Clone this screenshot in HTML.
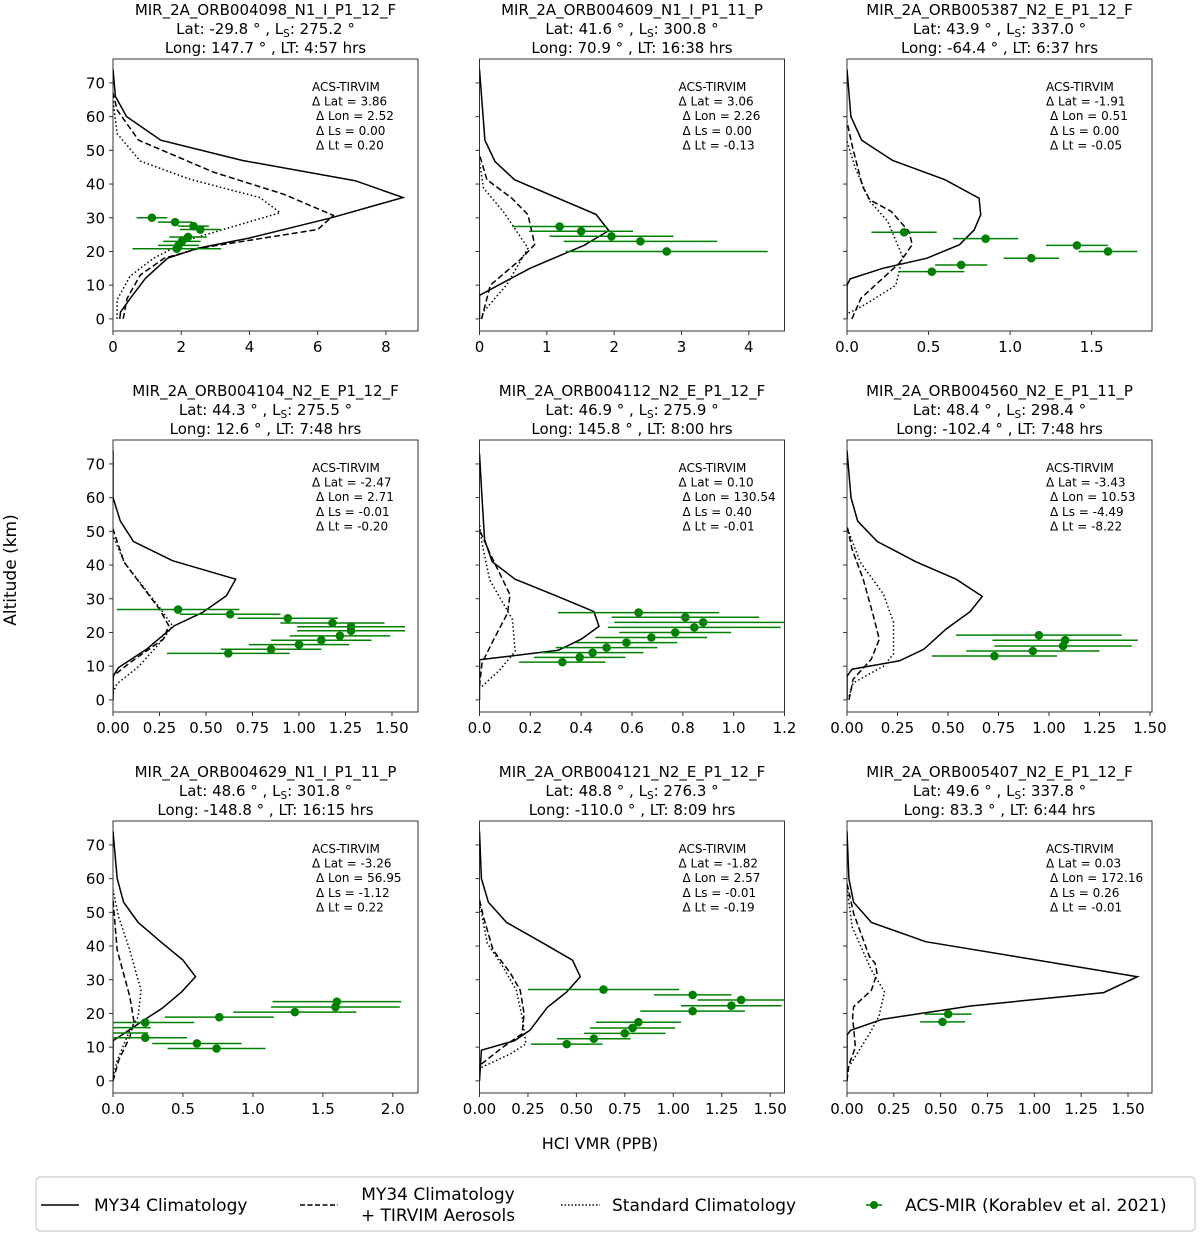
<!DOCTYPE html>
<html><head><meta charset="utf-8">
<style>
body{margin:0;background:#fff;}
svg{display:block;font-family:"DejaVu Sans","Liberation Sans",sans-serif;}
</style></head>
<body>
<svg id="fig" width="1200" height="1235" viewBox="0 0 1200 1235">
<text x="16" y="570" font-size="17" text-anchor="middle" transform="rotate(-90 16 570)">Altitude (km)</text>
<text x="600" y="1149" font-size="16" text-anchor="middle">HCl VMR (PPB)</text>
<g>
<rect x="36" y="1177" width="1159" height="54" rx="4" fill="#fff" stroke="#ccc" stroke-width="1.2"/>
<line x1="41" y1="1205" x2="79" y2="1205" stroke="#000" stroke-width="1.6"/>
<text x="94" y="1211" font-size="17">MY34 Climatology</text>
<line x1="300" y1="1205" x2="338" y2="1205" stroke="#000" stroke-width="1.6" stroke-dasharray="5,2.5"/>
<text x="438" y="1200" font-size="17" text-anchor="middle">MY34 Climatology<tspan x="438" dy="21">+ TIRVIM Aerosols</tspan></text>
<line x1="561" y1="1205" x2="600" y2="1205" stroke="#000" stroke-width="1.6" stroke-dasharray="1.5,2"/>
<text x="612" y="1211" font-size="17">Standard Climatology</text>
<line x1="866" y1="1205" x2="882" y2="1205" stroke="#008000" stroke-width="1.6"/>
<circle cx="874" cy="1205" r="4" fill="#008000"/>
<text x="905" y="1211" font-size="17">ACS-MIR (Korablev et al. 2021)</text>
</g>
</svg>
<script>
// ---------- Panel data (altitude km, HCl VMR ppb) ----------
const p1Title=["MIR_2A_ORB004098_N1_I_P1_12_F","Lat: -29.8 ° , L|: 275.2 °","Long: 147.7 ° , LT: 4:57 hrs"];
const p1Delta=["3.86","2.52","0.00","0.20"];
const p1SolidAlt=[0,2,6,12,18,21,24,30,36,41,47,53,60,66,74];
const p1SolidVal=[0.2,0.22,0.5,0.95,1.6,2.5,4.0,6.4,8.5,7.1,3.8,1.4,0.4,0.07,0];
const p1DashAlt=[0,6,13,18,21,26.5,30.7,37,43.5,53,62,67];
const p1DashVal=[0.3,0.41,0.8,1.5,2.56,6.0,6.46,5.0,2.95,0.75,0.12,0];
const p1DotAlt=[0,5.7,12.7,18,23.6,31.5,36,41.4,46.8,55,65];
const p1DotVal=[0.12,0.12,0.5,1.19,2.26,4.9,4.3,2.26,0.8,0.12,0];
const p1PtAlt=[30.0,28.7,27.5,26.5,24.3,23.0,21.8,20.8];
const p1PtVal=[1.14,1.82,2.36,2.56,2.2,2.02,1.92,1.87];
const p1PtErr=[0.45,0.5,0.45,0.6,0.55,0.55,0.6,1.3];

const p2Title=["MIR_2A_ORB004609_N1_I_P1_11_P","Lat: 41.6 ° , L|: 300.8 °","Long: 70.9 ° , LT: 16:38 hrs"];
const p2Delta=["3.06","2.26","0.00","-0.13"];
const p2SolidAlt=[0,7,15,21.8,26.2,31,41.3,46.7,53,74];
const p2SolidVal=[0,0,0.75,1.55,1.92,1.73,0.52,0.23,0.08,0];
const p2DashAlt=[0,2.2,10,17.5,22,30.9,35.8,41.3,48.7];
const p2DashVal=[0.03,0.06,0.16,0.6,0.82,0.72,0.48,0.11,0];
const p2DotAlt=[0,2.2,10,21,31.9,38.8,46.7];
const p2DotVal=[0.03,0.06,0.4,0.72,0.35,0.06,0];
const p2PtAlt=[27.4,26.0,24.5,23.0,20.0];
const p2PtVal=[1.19,1.51,1.96,2.39,2.78];
const p2PtErr=[0.7,0.77,0.92,1.14,1.5];

const p3Title=["MIR_2A_ORB005387_N2_E_P1_12_F","Lat: 43.9 ° , L|: 337.0 °","Long: -64.4 ° , LT: 6:37 hrs"];
const p3Delta=["-1.91","0.51","0.00","-0.05"];
const p3SolidAlt=[0,10,11.9,15,18,22,26.4,30.9,35.8,41.3,47,53,60,74];
const p3SolidVal=[0,0,0.02,0.22,0.49,0.69,0.78,0.82,0.81,0.6,0.28,0.09,0.024,0];
const p3DashAlt=[0,6.1,16.5,22,25.9,31.9,35.3,39.3,51.7,58.6];
const p3DashVal=[0.03,0.085,0.32,0.4,0.38,0.27,0.14,0.095,0.03,0];
const p3DotAlt=[1.7,4.2,10,18.5,28.9,34.9,44.8,52.7];
const p3DotVal=[0.01,0.11,0.3,0.34,0.25,0.14,0.05,0];
const p3PtAlt=[25.7,23.8,21.8,20.0,18.0,16.0,14.0];
const p3PtVal=[0.35,0.85,1.41,1.6,1.13,0.7,0.52];
const p3PtErr=[0.2,0.2,0.19,0.18,0.17,0.16,0.2];

const p4Title=["MIR_2A_ORB004104_N2_E_P1_12_F","Lat: 44.3 ° , L|: 275.5 °","Long: 12.6 ° , LT: 7:48 hrs"];
const p4Delta=["-2.47","2.71","-0.01","-0.20"];
const p4SolidAlt=[0,7,9.6,15,22,25.9,30.9,35.8,41.3,47,53,60,74];
const p4SolidVal=[0,0,0.03,0.18,0.33,0.48,0.61,0.66,0.32,0.11,0.04,0,0];
const p4DashAlt=[3,7,11,18,22,26.9,40.8,50.7];
const p4DashVal=[0,0,0.09,0.27,0.3,0.25,0.06,0];
const p4DotAlt=[2,4.7,10,18,22,27.4,40.8,48.7];
const p4DotVal=[0,0.02,0.14,0.27,0.32,0.25,0.06,0];
const p4PtAlt=[26.8,25.4,24.2,22.8,21.7,20.5,19.0,17.7,16.4,15.0,13.8];
const p4PtVal=[0.35,0.63,0.94,1.18,1.28,1.28,1.22,1.12,1.0,0.85,0.62];
const p4PtErr=[0.33,0.27,0.27,0.28,0.29,0.29,0.27,0.27,0.27,0.27,0.33];

const p5Title=["MIR_2A_ORB004112_N2_E_P1_12_F","Lat: 46.9 ° , L|: 275.9 °","Long: 145.8 ° , LT: 8:00 hrs"];
const p5Delta=["0.10","130.54","0.40","-0.01"];
const p5SolidAlt=[0,11.9,14.7,18,21.8,26.2,30.9,35.8,41,47.5,60,73];
const p5SolidVal=[0,0,0.31,0.4,0.47,0.45,0.3,0.14,0.05,0.02,0.01,0];
const p5DashAlt=[4,10.9,17.8,25.7,31.2,43.6,50.5];
const p5DashVal=[0,0.01,0.055,0.11,0.12,0.04,0];
const p5DotAlt=[4,8.9,14.4,23.8,35.6,46.5,52.5];
const p5DotVal=[0.01,0.08,0.14,0.13,0.04,0.01,0];
const p5PtAlt=[25.9,24.5,23.0,21.5,20.0,18.5,17.0,15.5,14.0,12.6,11.2];
const p5PtVal=[0.626,0.81,0.88,0.845,0.77,0.676,0.578,0.5,0.445,0.394,0.326];
const p5PtErr=[0.317,0.29,0.35,0.34,0.22,0.22,0.2,0.2,0.2,0.18,0.17];

const p6Title=["MIR_2A_ORB004560_N2_E_P1_11_P","Lat: 48.4 ° , L|: 298.4 °","Long: -102.4 ° , LT: 7:48 hrs"];
const p6Delta=["-3.43","10.53","-4.49","-8.22"];
const p6SolidAlt=[0,7,9.1,11.6,15,21,26.2,30.7,35.8,41,47,53,60,74];
const p6SolidVal=[0,0,0.025,0.26,0.38,0.49,0.61,0.67,0.54,0.34,0.15,0.053,0.02,0];
const p6DashAlt=[0,6.1,12,18,25,35.8,44.8,51.7];
const p6DashVal=[0.01,0.03,0.12,0.16,0.13,0.08,0.025,0];
const p6DotAlt=[1,5,10,13.6,23,31.4,40.8,51.2];
const p6DotVal=[0.01,0.03,0.18,0.23,0.23,0.18,0.066,0];
const p6PtAlt=[19.2,17.7,16.0,14.5,13.0];
const p6PtVal=[0.95,1.08,1.07,0.92,0.73];
const p6PtErr=[0.41,0.36,0.34,0.33,0.31];

const p7Title=["MIR_2A_ORB004629_N1_I_P1_11_P","Lat: 48.6 ° , L|: 301.8 °","Long: -148.8 ° , LT: 16:15 hrs"];
const p7Delta=["-3.26","56.95","-1.12","0.22"];
const p7SolidAlt=[0,11.9,14,18,21.5,26.4,30.9,35.8,41.3,47,53,60,74];
const p7SolidVal=[0,0,0.076,0.22,0.35,0.49,0.59,0.5,0.34,0.18,0.076,0.03,0];
const p7DashAlt=[0,6,13,17.5,25,38.8,53.7];
const p7DashVal=[0,0.04,0.12,0.15,0.12,0.03,0];
const p7DotAlt=[1,6,15,19,26.9,38.8,48.7,56.6];
const p7DotVal=[0,0.03,0.12,0.18,0.2,0.12,0.04,0];
const p7PtAlt=[23.5,21.9,20.4,18.9,17.3,15.8,14.2,12.8,11.1,9.6];
const p7PtVal=[1.6,1.59,1.3,0.76,0.23,-0.05,-0.06,0.23,0.6,0.74];
const p7PtErr=[0.46,0.46,0.44,0.39,0.35,0.32,0.31,0.3,0.32,0.35];

const p8Title=["MIR_2A_ORB004121_N2_E_P1_12_F","Lat: 48.8 ° , L|: 276.3 °","Long: -110.0 ° , LT: 8:09 hrs"];
const p8Delta=["-1.82","2.57","-0.01","-0.19"];
const p8SolidAlt=[0,9.1,11.9,15,21.8,26.4,30.9,35.8,40.8,47,53,60,74];
const p8SolidVal=[0,0.01,0.18,0.26,0.35,0.45,0.52,0.48,0.33,0.14,0.046,0.01,0];
const p8DashAlt=[5,10,14,20,26.9,31.9,38.8,48.7,53.7];
const p8DashVal=[0.01,0.12,0.22,0.23,0.21,0.16,0.07,0.02,0];
const p8DotAlt=[4,8,11,19,26.9,33.9,40.8,52.7];
const p8DotVal=[0.01,0.16,0.24,0.22,0.19,0.12,0.04,0];
const p8PtAlt=[27.1,25.5,24.0,22.3,20.7,17.4,15.7,14.1,12.5,10.9];
const p8PtVal=[0.64,1.1,1.35,1.3,1.1,0.82,0.79,0.75,0.59,0.45];
const p8PtErr=[0.39,0.2,0.225,0.26,0.27,0.22,0.22,0.21,0.19,0.185];

const p9Title=["MIR_2A_ORB005407_N2_E_P1_12_F","Lat: 49.6 ° , L|: 337.8 °","Long: 83.3 ° , LT: 6:44 hrs"];
const p9Delta=["0.03","172.16","0.26","-0.01"];
const p9SolidAlt=[0,13.6,15,18.3,22.2,26.2,30.9,41.3,47,53,60,74];
const p9SolidVal=[0,0,0.02,0.19,0.66,1.37,1.55,0.42,0.13,0.035,0.01,0];
const p9DashAlt=[0,4.7,10,19,22,26.9,31.9,34.9,36.8,49.7,58.6];
const p9DashVal=[0,0.01,0.045,0.03,0.035,0.13,0.16,0.15,0.12,0.035,0];
const p9DotAlt=[5,14,19,26.4,32.9,45.7,57.6];
const p9DotVal=[0.02,0.12,0.17,0.2,0.13,0.027,0];
const p9PtAlt=[19.8,17.5];
const p9PtVal=[0.54,0.51];
const p9PtErr=[0.125,0.12];

// tick label arrays
const yTickLabels=[0,10,20,30,40,50,60,70];
const p1XTicks=["0","2","4","6","8"];const p1XTickVals=[0,2,4,6,8];
const p2XTicks=["0","1","2","3","4"];const p2XTickVals=[0,1,2,3,4];
const p3XTicks=["0.0","0.5","1.0","1.5"];const p3XTickVals=[0,0.5,1.0,1.5];
const p4XTicks=["0.00","0.25","0.50","0.75","1.00","1.25","1.50"];const p4XTickVals=[0,0.25,0.5,0.75,1,1.25,1.5];
const p5XTicks=["0.0","0.2","0.4","0.6","0.8","1.0","1.2"];const p5XTickVals=[0,0.2,0.4,0.6,0.8,1.0,1.2];
const p6XTicks=["0.00","0.25","0.50","0.75","1.00","1.25","1.50"];const p6XTickVals=[0,0.25,0.5,0.75,1,1.25,1.5];
const p7XTicks=["0.0","0.5","1.0","1.5","2.0"];const p7XTickVals=[0,0.5,1.0,1.5,2.0];
const p8XTicks=["0.00","0.25","0.50","0.75","1.00","1.25","1.50"];const p8XTickVals=[0,0.25,0.5,0.75,1,1.25,1.5];
const p9XTicks=["0.00","0.25","0.50","0.75","1.00","1.25","1.50"];const p9XTickVals=[0,0.25,0.5,0.75,1,1.25,1.5];
const xMaxes=[8.94,4.53,1.87,1.64,1.2,1.51,2.18,1.574,1.628];

const NS="http://www.w3.org/2000/svg";
const svg=document.getElementById('fig');
function mk(tag,attrs,parent){const e=document.createElementNS(NS,tag);for(const k in attrs)e.setAttribute(k,attrs[k]);(parent||svg).appendChild(e);return e;}

const panels=[
 [p1Title,p1Delta,p1SolidAlt,p1SolidVal,p1DashAlt,p1DashVal,p1DotAlt,p1DotVal,p1PtAlt,p1PtVal,p1PtErr,p1XTicks,p1XTickVals],
 [p2Title,p2Delta,p2SolidAlt,p2SolidVal,p2DashAlt,p2DashVal,p2DotAlt,p2DotVal,p2PtAlt,p2PtVal,p2PtErr,p2XTicks,p2XTickVals],
 [p3Title,p3Delta,p3SolidAlt,p3SolidVal,p3DashAlt,p3DashVal,p3DotAlt,p3DotVal,p3PtAlt,p3PtVal,p3PtErr,p3XTicks,p3XTickVals],
 [p4Title,p4Delta,p4SolidAlt,p4SolidVal,p4DashAlt,p4DashVal,p4DotAlt,p4DotVal,p4PtAlt,p4PtVal,p4PtErr,p4XTicks,p4XTickVals],
 [p5Title,p5Delta,p5SolidAlt,p5SolidVal,p5DashAlt,p5DashVal,p5DotAlt,p5DotVal,p5PtAlt,p5PtVal,p5PtErr,p5XTicks,p5XTickVals],
 [p6Title,p6Delta,p6SolidAlt,p6SolidVal,p6DashAlt,p6DashVal,p6DotAlt,p6DotVal,p6PtAlt,p6PtVal,p6PtErr,p6XTicks,p6XTickVals],
 [p7Title,p7Delta,p7SolidAlt,p7SolidVal,p7DashAlt,p7DashVal,p7DotAlt,p7DotVal,p7PtAlt,p7PtVal,p7PtErr,p7XTicks,p7XTickVals],
 [p8Title,p8Delta,p8SolidAlt,p8SolidVal,p8DashAlt,p8DashVal,p8DotAlt,p8DotVal,p8PtAlt,p8PtVal,p8PtErr,p8XTicks,p8XTickVals],
 [p9Title,p9Delta,p9SolidAlt,p9SolidVal,p9DashAlt,p9DashVal,p9DotAlt,p9DotVal,p9PtAlt,p9PtVal,p9PtErr,p9XTicks,p9XTickVals]
];
const colLeft=[113,479.5,847], boxW=305;
const rowTop=[59,440,821], boxH=272;
const yMin=-3.6, yMax=77.1;

panels.forEach((p,i)=>{
  const [title,delta,sA,sV,dA,dV,oA,oV,pA,pV,pE,xt,xtv]=p;
  const col=i%3,row=Math.floor(i/3);
  const L=colLeft[col],T=rowTop[row],xmax=xMaxes[i];
  const xs=v=>L+v/xmax*boxW;
  const ys=a=>T+(yMax-a)/(yMax-yMin)*boxH;
  const g=mk('g',{});
  
  
  const cp=mk('clipPath',{id:'cp'+i},g);
  mk('rect',{x:L,y:T,width:boxW,height:boxH},cp);
  const cx=L+boxW/2;
  title.forEach((t,k)=>{
    const te=mk('text',{x:cx,y:T-44+k*19,'font-size':15,'text-anchor':'middle'},g);
    
    
    if(t.indexOf('L|')>=0){
      const parts=t.split('L|');
      te.appendChild(document.createTextNode(parts[0]+'L'));
      const s=mk('tspan',{'font-size':10.5,dy:3},te);s.textContent='S';
      const r=mk('tspan',{dy:-3},te);r.textContent=parts[1];
    } else te.textContent=t;
  });
  const fr=mk('rect',{x:L,y:T,width:boxW,height:boxH,fill:'none',stroke:'#333','stroke-width':1},g);
  
  
  yTickLabels.forEach(v=>{
    const y=ys(v);
    mk('line',{x1:L-4,x2:L,y1:y,y2:y,stroke:'#333'},g);
    if(col===0){
      const te=mk('text',{x:L-8,y:y+5.5,'font-size':15,'text-anchor':'end'},g);
      
      
      te.textContent=v;
    }
  });
  xtv.forEach((v,k)=>{
    const x=xs(v);
    mk('line',{x1:x,x2:x,y1:T+boxH,y2:T+boxH+4,stroke:'#333'},g);
    const te=mk('text',{x:x,y:T+boxH+21,'font-size':15,'text-anchor':'middle'},g);
    
    
    te.textContent=xt[k];
  });
  const ann=['ACS-TIRVIM','\u0394 Lat = '+delta[0],' \u0394 Lon = '+delta[1],' \u0394 Ls = '+delta[2],' \u0394 Lt = '+delta[3]];
  ann.forEach((t,k)=>{
    const te=mk('text',{x:L+199+(k>=2?4:0),y:T+32+k*14.6,'font-size':12},g);
    
    
    te.textContent=t.trim();
  });
  const cg=mk('g',{'clip-path':'url(#cp'+i+')'},g);
  function line(A,V,dash,name){
    const d=A.map((a,k)=>(k?'L':'M')+xs(V[k]).toFixed(1)+','+ys(a).toFixed(1)).join('');
    const pth=mk('path',{d:d,fill:'none',stroke:'#000','stroke-width':1.5,'stroke-dasharray':dash},cg);
    
    
  }
  line(sA,sV,'none','my34-climatology-line');
  line(dA,dV,'6,3','my34-tirvim-aerosols-line');
  line(oA,oV,'1.5,2.5','standard-climatology-line');
  pA.forEach((a,k)=>{
    const y=ys(a);
    const eb=mk('line',{x1:xs(pV[k]-pE[k]),x2:xs(pV[k]+pE[k]),y1:y,y2:y,stroke:'#008000','stroke-width':1.5},cg);
    
    
    const c=mk('circle',{cx:xs(pV[k]),cy:y,r:4.3,fill:'#008000'},cg);
    
    
  });
});
</script>
</body></html>
